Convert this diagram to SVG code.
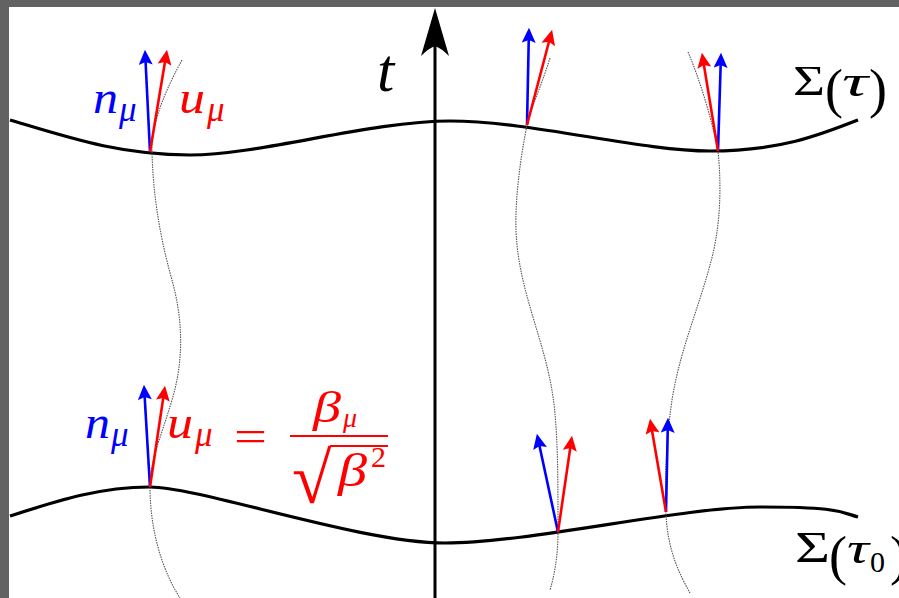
<svg xmlns="http://www.w3.org/2000/svg" width="899" height="598" viewBox="0 0 899 598">
  <style>
    .surf { fill: none; stroke: #000; stroke-width: 3.2; }
    .wl { fill: none; stroke: #555; stroke-width: 1.1; stroke-dasharray: 1.5 1; }
    .vb { stroke: #0000ff; stroke-width: 2.6; fill: none; }
    .vr { stroke: #ff0000; stroke-width: 2.6; fill: none; }
    text { font-family: 'Liberation Serif', 'DejaVu Serif', serif; }
    .m { font-style: italic; }
    .up { font-style: normal; }
    .blue { fill: #0000ff; }
    .red { fill: #ff0000; }
  </style>
  <defs>
    <marker id="ab" markerUnits="userSpaceOnUse" markerWidth="16" markerHeight="14" viewBox="0 0 14 13" refX="10" refY="6.5" orient="auto">
      <path d="M0,0 L14,6.5 L0,13 L2.5,6.5 Z" fill="#0000ff"/>
    </marker>
    <marker id="ar" markerUnits="userSpaceOnUse" markerWidth="16" markerHeight="14" viewBox="0 0 14 13" refX="10" refY="6.5" orient="auto">
      <path d="M0,0 L14,6.5 L0,13 L2.5,6.5 Z" fill="#ff0000"/>
    </marker>
  </defs>

  <rect x="0" y="0" width="899" height="598" fill="#626262"/>
  <rect x="9" y="7" width="890" height="591" fill="#ffffff"/>

  <g id="surfaces">
    <path id="sigma-tau" class="surf" d="M10,120 C70,138 120,155 190,155 S370,121 450,121 S640,151 710,151 S820,135 858,120"/>
    <path id="sigma-tau0" class="surf" d="M10,516 C60,500 100,487 150,487 S360,543 445,543 S680,507 760,507 S840,512 858,517"/>
  </g>

  <g id="worldlines">
    <path id="wl-left" class="wl" d="M182,60 C160,100 151,130 152,152 C153,190 158,230 172,280 C183,320 184,360 172,400 C160,440 150,460 150,487 C150,530 162,570 180,598"/>
    <path id="wl-mid" class="wl" d="M550,58 C540,90 530,110 527,125 C520,160 515,200 516,230 C518,290 545,340 553,397 C558,430 558,480 558,532 C558,560 553,580 550,590"/>
    <path id="wl-right" class="wl" d="M688,52 C700,80 712,120 718,151 C722,190 720,230 710,265 C698,310 680,350 672,400 C666,440 665,480 666,512 C667,550 680,575 690,593"/>
  </g>

  <g id="time-axis">
    <line x1="435" y1="598" x2="435" y2="45" stroke="#000" stroke-width="3"/>
    <path d="M435,8 L449,56 Q441,48 435,46 Q429,48 421,56 Z" fill="#000"/>
  </g>

  <g id="connectors">
    <line class="vb" x1="150" y1="152" x2="145.2" y2="54" marker-end="url(#ab)"/>
    <line class="vr" x1="150" y1="152" x2="166.3" y2="54" marker-end="url(#ar)"/>
    <line class="vb" x1="527" y1="125" x2="528.9" y2="32" marker-end="url(#ab)"/>
    <line class="vr" x1="527" y1="125" x2="551" y2="34" marker-end="url(#ar)"/>
    <line class="vb" x1="718" y1="151" x2="720.9" y2="57" marker-end="url(#ab)"/>
    <line class="vr" x1="718" y1="151" x2="702.6" y2="57" marker-end="url(#ar)"/>
    <line class="vb" x1="150" y1="487" x2="144.2" y2="389" marker-end="url(#ab)"/>
    <line class="vr" x1="150" y1="487" x2="164.4" y2="390" marker-end="url(#ar)"/>
    <line class="vb" x1="558" y1="532" x2="537.8" y2="438" marker-end="url(#ab)"/>
    <line class="vr" x1="558" y1="532" x2="571.4" y2="440" marker-end="url(#ar)"/>
    <line class="vb" x1="666" y1="512" x2="667.9" y2="422" marker-end="url(#ab)"/>
    <line class="vr" x1="666" y1="512" x2="650.7" y2="423" marker-end="url(#ar)"/>
  </g>

  <g id="labels">
    <text class="m" x="377" y="91" font-size="62" fill="#000">t</text>

    <g id="label-sigma-tau" fill="#000">
      <text class="up" x="793" y="95" font-size="42" textLength="32" lengthAdjust="spacingAndGlyphs">Σ</text>
      <text class="up" x="825" y="107" font-size="54">(</text>
      <text class="m" x="842" y="96" font-size="44" textLength="26" lengthAdjust="spacingAndGlyphs">τ</text>
      <text class="up" x="869" y="107" font-size="54">)</text>
    </g>
    <g id="label-sigma-tau0" fill="#000">
      <text class="up" x="795" y="562" font-size="44" textLength="35" lengthAdjust="spacingAndGlyphs">Σ</text>
      <text class="up" x="829" y="574" font-size="54">(</text>
      <text class="m" x="847" y="563" font-size="44" textLength="22" lengthAdjust="spacingAndGlyphs">τ</text>
      <text class="up" x="870" y="572" font-size="30">0</text>
      <text class="up" x="890" y="574" font-size="54">)</text>
    </g>

    <g id="label-upper-n" class="blue">
      <text class="m" x="93" y="113" font-size="46" textLength="25" lengthAdjust="spacingAndGlyphs">n</text>
      <text class="m" x="119" y="121" font-size="35">μ</text>
    </g>
    <g id="label-upper-u" class="red">
      <text class="m" x="179" y="113" font-size="46" textLength="26" lengthAdjust="spacingAndGlyphs">u</text>
      <text class="m" x="207" y="121" font-size="35">μ</text>
    </g>
    <g id="label-lower-n" class="blue">
      <text class="m" x="85" y="438" font-size="46" textLength="25" lengthAdjust="spacingAndGlyphs">n</text>
      <text class="m" x="111" y="446" font-size="35">μ</text>
    </g>
    <g id="label-lower-u" class="red">
      <text class="m" x="167" y="438" font-size="46" textLength="26" lengthAdjust="spacingAndGlyphs">u</text>
      <text class="m" x="195" y="446" font-size="35">μ</text>
      <text class="up" x="234" y="451" font-size="44" textLength="33" lengthAdjust="spacingAndGlyphs">=</text>
      <text class="m" x="313" y="422" font-size="44" textLength="28" lengthAdjust="spacingAndGlyphs">β</text>
      <text class="m" x="343" y="427" font-size="28">μ</text>
      <line x1="290" y1="436" x2="388" y2="436" stroke="#ff0000" stroke-width="2"/>
      <text class="up" x="292" y="503" font-size="72">√</text>
      <line x1="330" y1="446" x2="388" y2="446" stroke="#ff0000" stroke-width="2"/>
      <text class="m" x="338" y="486" font-size="46" textLength="29" lengthAdjust="spacingAndGlyphs">β</text>
      <text class="up" x="371" y="467" font-size="30">2</text>
    </g>
  </g>
</svg>
